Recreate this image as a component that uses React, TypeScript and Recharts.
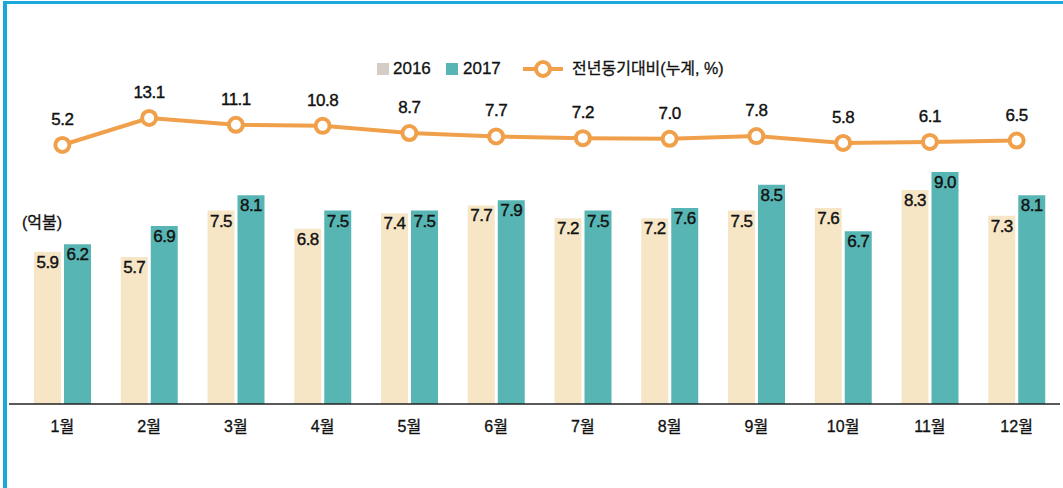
import React from "react";
import { ComposedChart, Bar, Line, XAxis, YAxis, LabelList } from "recharts";

const months = ["1월", "2월", "3월", "4월", "5월", "6월", "7월", "8월", "9월", "10월", "11월", "12월"];
const exports2016 = [5.9, 5.7, 7.5, 6.8, 7.4, 7.7, 7.2, 7.2, 7.5, 7.6, 8.3, 7.3];
const exports2017 = [6.2, 6.9, 8.1, 7.5, 7.5, 7.9, 7.5, 7.6, 8.5, 6.7, 9.0, 8.1];
const yoyRate = [5.2, 13.1, 11.1, 10.8, 8.7, 7.7, 7.2, 7.0, 7.8, 5.8, 6.1, 6.5];

const data = months.map((m, i) => ({
  month: m,
  y2016: exports2016[i],
  y2017: exports2017[i],
  rate: yoyRate[i],
}));

const FONT = "'Liberation Sans', 'Noto Sans CJK KR', sans-serif";
const C2016 = "#f6e6c6";
const C2017 = "#57b6b4";
const LINE = "#f0a04a";

// value text, slightly thickened to match the heavier print look
const barLabel = (props: any) => {
  const { x, y, width, value } = props;
  return (
    <text x={x + width / 2} y={y + 16} textAnchor="middle" fontSize={17} fontFamily={FONT} fill="#111" stroke="#111" strokeWidth={0.4} letterSpacing={-0.5}>
      {Number(value).toFixed(1)}
    </text>
  );
};

const lineLabel = (props: any) => {
  const { x, y, value } = props;
  return (
    <text x={x} y={y - 20} textAnchor="middle" fontSize={17} fontFamily={FONT} fill="#111" stroke="#111" strokeWidth={0.4} letterSpacing={-0.5}>
      {Number(value).toFixed(1)}
    </text>
  );
};

function ChartLegend() {
  const txt: React.CSSProperties = { position: "absolute", top: -10, fontSize: 17, fontFamily: FONT, color: "#111", whiteSpace: "nowrap", lineHeight: "20px", WebkitTextStroke: "0.3px #111" };
  return (
    <div style={{ position: "absolute", left: 377, top: 69, width: 400, height: 0 }}>
      <div style={{ position: "absolute", left: 0, top: -6, width: 12, height: 12, background: "#d4ccc6" }} />
      <div style={{ ...txt, left: 16 }}>2016</div>
      <div style={{ position: "absolute", left: 69, top: -6, width: 12, height: 12, background: C2017 }} />
      <div style={{ ...txt, left: 86 }}>2017</div>
      <svg style={{ position: "absolute", left: 144, top: -12 }} width={44} height={24}>
        <line x1={2} y1={12} x2={42} y2={12} stroke={LINE} strokeWidth={4} />
        <circle cx={22} cy={12} r={7} fill="#fff" stroke={LINE} strokeWidth={4} />
      </svg>
      <div style={{ ...txt, left: 195, fontSize: 16 }}>전년동기대비(누계, %)</div>
    </div>
  );
}

export default function App() {
  return (
    <div style={{ position: "absolute", left: 0, top: 0, width: 1063, height: 488, background: "#fff" }}>
      <div
        style={{
          position: "absolute",
          left: 3,
          top: 1,
          width: 1060,
          height: 487,
          borderLeft: "4px solid #1aa8dc",
          borderTop: "3px solid #1aa8dc",
          boxSizing: "border-box",
        }}
      />
      <div style={{ position: "absolute", left: 22, top: 209, fontSize: 16, fontFamily: FONT, color: "#111", WebkitTextStroke: "0.3px #111" }}>(억불)</div>
      <ChartLegend />
      <div style={{ position: "absolute", left: 0, top: 0 }}>
        <ComposedChart
          width={1063}
          height={488}
          data={data}
          margin={{ top: 10, right: 3, bottom: 54, left: 9 }}
          barSize={27}
          barGap={3}
        >
          <XAxis
            dataKey="month"
            height={30}
            padding={{ left: 10, right: 0 }}
            tickLine={false}
            tickSize={0}
            tickMargin={17}
            axisLine={{ stroke: "#222", strokeWidth: 1.5 }}
            tick={{ fontSize: 16, fill: "#111", fontFamily: FONT, stroke: "#111", strokeWidth: 0.3 }}
            interval={0}
          />
          <YAxis yAxisId="left" hide domain={[0, 15.28]} />
          <YAxis yAxisId="right" orientation="right" hide domain={[-70.6, 44.7]} />
          <Bar yAxisId="left" dataKey="y2016" fill={C2016} isAnimationActive={false}>
            <LabelList dataKey="y2016" content={barLabel} />
          </Bar>
          <Bar yAxisId="left" dataKey="y2017" fill={C2017} isAnimationActive={false}>
            <LabelList dataKey="y2017" content={barLabel} />
          </Bar>
          <Line
            yAxisId="right"
            dataKey="rate"
            type="linear"
            stroke={LINE}
            strokeWidth={4}
            dot={{ r: 7, fill: "#fff", stroke: LINE, strokeWidth: 4 }}
            isAnimationActive={false}
          >
            <LabelList dataKey="rate" content={lineLabel} />
          </Line>
        </ComposedChart>
      </div>
    </div>
  );
}
